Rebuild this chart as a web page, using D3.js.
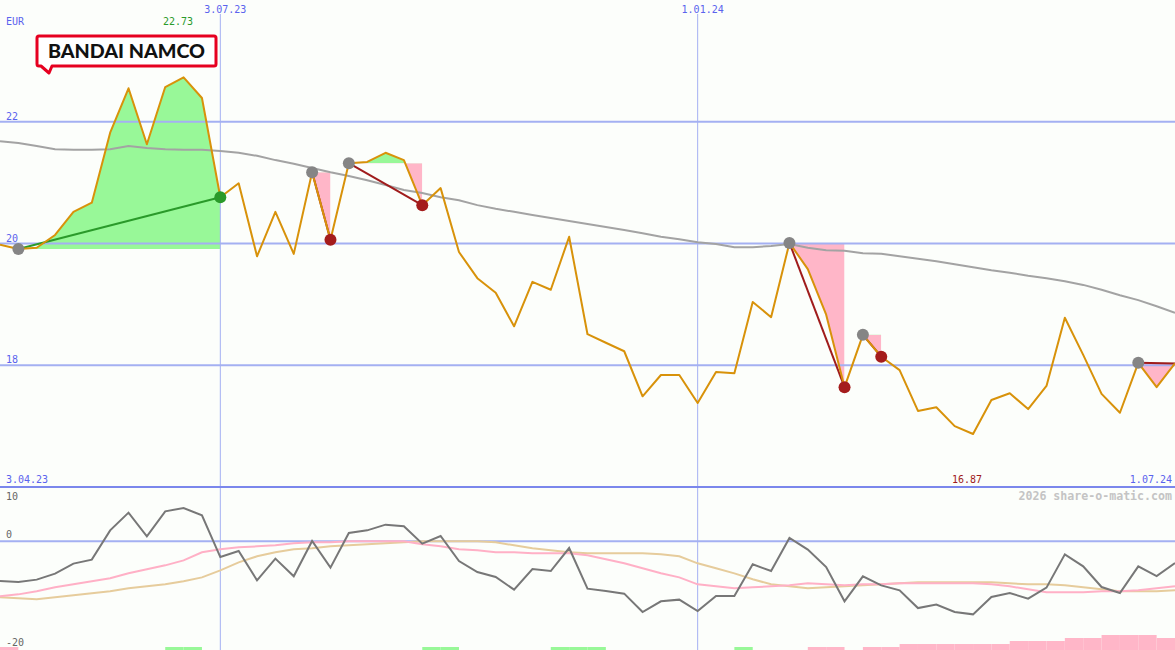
<!DOCTYPE html>
<html>
<head>
<meta charset="utf-8">
<script src="https://cdn.jsdelivr.net/npm/d3@7"></script>
<style>
  html, body { margin: 0; padding: 0; background: #fcfefb; }
  svg { display: block; }
</style>
</head>
<body>
<svg id="chart" width="1175" height="650"></svg>
<script>
// ---------- DATA (weekly, first week 10.04.2023) ----------
const firstWeek = new Date(2023, 3, 10);
const weekCount = 65;

const price = [
  19.98, 19.91, 19.93, 20.14, 20.52, 20.67, 21.82, 22.55, 21.63, 22.57,
  22.73, 22.39, 20.76, 20.99, 19.79, 20.52, 19.83, 21.17, 20.06, 21.32,
  21.34, 21.49, 21.37, 20.63, 20.91, 19.86, 19.43, 19.19, 18.64, 19.37,
  19.24, 20.11, 18.51, 18.37, 18.23, 17.49, 17.84, 17.84, 17.38, 17.89,
  17.87, 19.04, 18.79, 20.01, 19.58, 18.83, 17.64, 18.50, 18.14, 17.92,
  17.25, 17.31, 17.00, 16.87, 17.43, 17.54, 17.28, 17.66, 18.78, 18.17,
  17.53, 17.22, 18.04, 17.64, 18.03
];

const movingAvg = [
  21.68, 21.65, 21.60, 21.55, 21.54, 21.54, 21.55, 21.60, 21.57, 21.55,
  21.54, 21.54, 21.52, 21.49, 21.44, 21.37, 21.31, 21.24, 21.17, 21.11,
  21.04, 20.96, 20.88, 20.83, 20.76, 20.71, 20.63, 20.57, 20.52, 20.47,
  20.42, 20.37, 20.32, 20.27, 20.22, 20.17, 20.11, 20.07, 20.02, 19.99,
  19.94, 19.94, 19.96, 19.99, 19.93, 19.89, 19.88, 19.84, 19.83, 19.79,
  19.75, 19.71, 19.66, 19.61, 19.56, 19.52, 19.47, 19.43, 19.38, 19.32,
  19.24, 19.15, 19.07, 18.97, 18.86
];

const oscillator = [
  -7.31, -7.49, -7.05, -5.95, -4.10, -3.37, 2.02, 5.28, 0.92, 5.52,
  6.13, 4.79, -2.89, -1.79, -7.18, -3.18, -6.44, 0.06, -4.84, 1.53,
  2.02, 3.07, 2.76, -0.42, 0.98, -3.63, -5.65, -6.57, -8.89, -5.10,
  -5.47, -1.23, -8.71, -9.15, -9.63, -13.01, -11.04, -10.73, -12.83, -10.07,
  -10.07, -4.23, -5.47, 0.61, -1.53, -4.73, -11.04, -6.44, -8.10, -9.02,
  -12.28, -11.65, -13.01, -13.44, -10.25, -9.52, -10.55, -8.52, -2.39, -4.60,
  -8.41, -9.52, -4.60, -6.39, -3.99
];

const oscFast = [
  -10.12, -9.76, -9.20, -8.47, -7.91, -7.36, -6.81, -5.89, -5.15, -4.42,
  -3.50, -2.02, -1.47, -1.10, -0.92, -0.74, -0.37, -0.18, -0.18, 0.00,
  0.00, 0.00, 0.00, -0.55, -0.92, -1.47, -1.66, -2.02, -2.02, -2.21,
  -2.21, -2.21, -2.58, -3.31, -4.05, -4.97, -5.89, -6.63, -7.91, -8.28,
  -8.65, -8.47, -8.28, -8.10, -7.73, -7.91, -8.10, -7.91, -7.91, -7.73,
  -7.73, -7.73, -7.73, -7.73, -7.91, -8.28, -8.83, -9.39, -9.39, -9.39,
  -9.20, -9.20, -9.02, -8.65, -8.28
];

const oscSlow = [
  -10.31, -10.49, -10.68, -10.31, -9.94, -9.57, -9.20, -8.65, -8.28, -7.91,
  -7.36, -6.63, -5.34, -3.87, -2.76, -2.02, -1.47, -1.29, -0.92, -0.74,
  -0.55, -0.37, -0.18, 0.00, 0.00, 0.00, 0.00, -0.18, -0.74, -1.29,
  -1.66, -2.02, -2.21, -2.21, -2.21, -2.21, -2.39, -2.76, -4.05, -4.97,
  -5.89, -6.99, -7.91, -8.28, -8.65, -8.47, -8.28, -8.10, -7.91, -7.73,
  -7.55, -7.55, -7.55, -7.55, -7.55, -7.73, -7.91, -7.91, -8.10, -8.47,
  -8.83, -9.20, -9.20, -9.20, -9.02
];

// signal histogram at the bottom (positive = green, negative = pink), per week
const signalBars = [
  -1, 0, 0, 0, 0, 0, 0, 0, 0, 1,
  1, 0, 0, 0, 0, 0, 0, 0, 0, 0,
  0, 0, 0, 1, 1, 0, 0, 0, 0, 0,
  1, 1, 1, 0, 0, 0, 0, 0, 0, 0,
  1, 0, 0, 0, -1, -1, 0, -1, -1, -2,
  -2, -2, -2, -2, -2, -3, -3, -3, -4, -4,
  -5, -5, -5, -4
];

// trades: entry week index, exit week index
const tradeEntry = [1, 17, 19, 43, 47, 62];
const tradeExit  = [12, 18, 23, 46, 48, 64];
const tradeOpen  = [false, false, false, false, false, true];

const gridDates = [new Date(2023, 6, 3), new Date(2024, 0, 1)];
const gridDateLabels = ["3.07.23", "1.01.24"];
const priceTicks = [18, 20, 22];
const oscTicks = [10, 0, -20];

// ---------- SETUP ----------
const W = 1175, H = 650;
const mainBottom = 487;
const dates = d3.range(weekCount).map(i => d3.timeWeek.offset(firstWeek, i));

const x = d3.scaleTime().domain([dates[0], dates[weekCount - 1]]).range([0, W]);
const y = d3.scaleLinear().domain([16, 24]).range([mainBottom, 0]);
const y2 = d3.scaleLinear().domain([-20, 10]).range([H, mainBottom]);
const barH = d3.scaleLinear().domain([0, 5]).range([0, 15]);

const svg = d3.select("#chart");
const monoFont = "'DejaVu Sans Mono', monospace";
const blue = "#5a63ee";
const gridBlue = "#a4b0f2";

svg.append("rect").attr("width", W).attr("height", H).attr("fill", "#fcfefb");

const gx = i => x(dates[i]);
const gy = i => y(price[i]);

// ---------- TRADE FILLS ----------
const defs = svg.append("defs");
const fills = svg.append("g");
tradeEntry.forEach((e, k) => {
  const xi = tradeExit[k];
  const lvl = y(price[e]);
  const seg = d3.range(e, xi + 1);
  const area = d3.area()
    .x(i => gx(i))
    .y0(lvl)
    .y1(i => gy(i));
  const x0 = gx(e), x1 = gx(xi);
  defs.append("clipPath").attr("id", "up" + k)
    .append("rect").attr("x", x0).attr("y", 0).attr("width", x1 - x0).attr("height", lvl);
  defs.append("clipPath").attr("id", "dn" + k)
    .append("rect").attr("x", x0).attr("y", lvl).attr("width", x1 - x0).attr("height", mainBottom - lvl);
  fills.append("path").datum(seg).attr("d", area)
    .attr("fill", "#98f898").attr("clip-path", `url(#up${k})`);
  fills.append("path").datum(seg).attr("d", area)
    .attr("fill", "#ffb6c8").attr("clip-path", `url(#dn${k})`);
});

// ---------- GRID ----------
const grid = svg.append("g");
priceTicks.forEach(t => {
  grid.append("line").attr("x1", 0).attr("x2", W).attr("y1", y(t)).attr("y2", y(t))
    .attr("stroke", gridBlue).attr("stroke-width", 2);
});
gridDates.forEach(d => {
  grid.append("line").attr("x1", x(d)).attr("x2", x(d)).attr("y1", 14).attr("y2", H)
    .attr("stroke", gridBlue).attr("stroke-width", 1);
});
grid.append("line").attr("x1", 0).attr("x2", W).attr("y1", y2(0)).attr("y2", y2(0))
  .attr("stroke", gridBlue).attr("stroke-width", 2);
grid.append("line").attr("x1", 0).attr("x2", W).attr("y1", mainBottom).attr("y2", mainBottom)
  .attr("stroke", "#7b87ec").attr("stroke-width", 2);

// ---------- LINES ----------
const lineMain = d3.line().x((d, i) => gx(i)).y(d => y(d));
svg.append("path").datum(movingAvg).attr("d", lineMain)
  .attr("fill", "none").attr("stroke", "#a3a3a3").attr("stroke-width", 2);

// trade connection lines
tradeEntry.forEach((e, k) => {
  const xi = tradeExit[k];
  const win = price[xi] >= price[e];
  svg.append("line")
    .attr("x1", gx(e)).attr("y1", gy(e)).attr("x2", gx(xi)).attr("y2", gy(xi))
    .attr("stroke", win ? "#2a9a2a" : "#a01c1c").attr("stroke-width", 2);
});

svg.append("path").datum(price).attr("d", lineMain)
  .attr("fill", "none").attr("stroke", "#d8920a").attr("stroke-width", 2)
  .attr("stroke-linejoin", "round");

// markers
tradeEntry.forEach((e, k) => {
  const xi = tradeExit[k];
  const win = price[xi] >= price[e];
  svg.append("circle").attr("cx", gx(e)).attr("cy", gy(e)).attr("r", 6).attr("fill", "#858585");
  if (!tradeOpen[k]) {
    svg.append("circle").attr("cx", gx(xi)).attr("cy", gy(xi)).attr("r", 6)
      .attr("fill", win ? "#2a9a2a" : "#a41c1c");
  }
});

// ---------- LOWER PANEL ----------
const lineOsc = d3.line().x((d, i) => gx(i)).y(d => y2(d));
svg.append("path").datum(oscSlow).attr("d", lineOsc)
  .attr("fill", "none").attr("stroke", "#e6cc9c").attr("stroke-width", 2);
svg.append("path").datum(oscFast).attr("d", lineOsc)
  .attr("fill", "none").attr("stroke", "#ffb0c6").attr("stroke-width", 2);
svg.append("path").datum(oscillator).attr("d", lineOsc)
  .attr("fill", "none").attr("stroke", "#777777").attr("stroke-width", 2);

svg.append("g").selectAll("rect").data(signalBars).join("rect")
  .attr("x", (d, i) => gx(i))
  .attr("width", (d, i) => gx(i + 1) - gx(i))
  .attr("y", d => H - barH(Math.abs(d)))
  .attr("height", d => barH(Math.abs(d)))
  .attr("fill", d => d > 0 ? "#98f898" : "#ffb6c8");

// ---------- TEXT ----------
const txt = (s, xx, yy, color, anchor, size, weight) =>
  svg.append("text").attr("x", xx).attr("y", yy).text(s)
    .attr("fill", color).attr("font-family", monoFont)
    .attr("font-size", size || 10).attr("font-weight", weight || "normal")
    .attr("text-anchor", anchor || "start");

txt("EUR", 6, 25, blue);
priceTicks.forEach(t => txt(String(t), 6, y(t) - 2, blue));
gridDates.forEach((d, i) => txt(gridDateLabels[i], x(d) + 5, 13, blue, "middle"));
txt("22.73", 178, 25, "#2a9a2a", "middle");
txt("3.04.23", 6, 483, blue);
txt("16.87", 967, 483, "#a01c1c", "middle");
txt("1.07.24", 1172, 483, blue, "end");
txt("2026 share-o-matic.com", 1172, 500, "#c4c4c4", "end", 11.6, "bold");
txt(String(oscTicks[0]), 6, y2(oscTicks[0]) + 13, "#666");
txt(String(oscTicks[1]), 6, y2(oscTicks[1]) - 3, "#666");
txt(String(oscTicks[2]), 6, y2(oscTicks[2]) - 4, "#666");

// ---------- LOGO ----------
const logo = svg.append("g");
logo.append("path")
  .attr("d", "M39,36 H214 Q216,36 216,38 V64 Q216,66 214,66 H52 L49,73 L41,66 H39 Q37,66 37,64 V38 Q37,36 39,36 Z")
  .attr("fill", "#ffffff").attr("stroke", "#e60020").attr("stroke-width", 3)
  .attr("stroke-linejoin", "round");
logo.append("text").attr("x", 48).attr("y", 58).text("BANDAI NAMCO")
  .attr("font-family", "Lato, 'DejaVu Sans', sans-serif").attr("font-weight", 900)
  .attr("font-size", 18).attr("fill", "#111")
  .attr("textLength", 157).attr("lengthAdjust", "spacingAndGlyphs");
</script>
</body>
</html>
